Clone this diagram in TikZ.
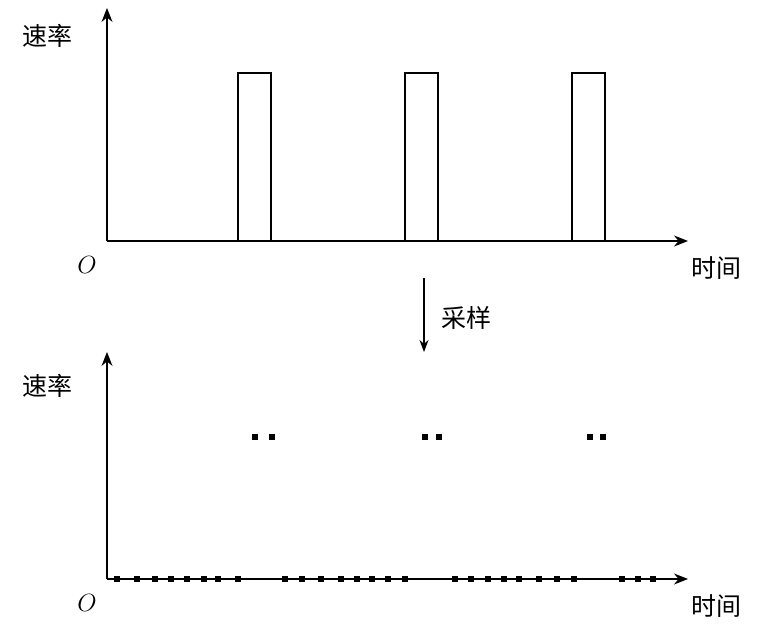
\documentclass[tikz,border=0pt]{standalone}
\usepackage{fontspec}
\setmainfont{Liberation Serif}
\newfontfamily\cjk{Noto Sans CJK SC}
\usetikzlibrary{arrows.meta}
\begin{document}
\begin{tikzpicture}[x=1pt,y=-1pt,
  ax/.style={line width=1.2pt,-{Stealth[length=14pt,width=11pt]}},
  lbl/.style={font=\cjk\fontsize{25}{25}\selectfont},
  orig/.style={font=\itshape\fontsize{28}{28}\selectfont},
  pulse/.style={draw,line width=1.1pt},
  dot/.style={fill=black,minimum size=6pt,inner sep=0pt}]
\useasboundingbox (0,0) rectangle (774,639);
% top
\coordinate (o1) at (107,241);
\coordinate (y1) at (107,8);
\coordinate (x1) at (688,241);
\draw[ax] (o1) -- (y1);
\draw[ax] (o1) -- (x1);
\node[lbl] (r1) at (48,36) {速率};
\node[orig] (O1) at (87,265) {$O$};
\node[lbl] (t1) at (716,268) {时间};
\foreach \a in {238,405,572}{
  \draw[pulse] (\a,241) -- (\a,73) -- (\a+33,73) -- (\a+33,241);
}
% sampling arrow
\coordinate (sa) at (424,278);
\coordinate (sb) at (424,352);
\draw[line width=1.2pt,-{Stealth[length=12pt,width=9pt]}] (sa) -- (sb);
\node[lbl] (s) at (466,318) {采样};
% bottom
\coordinate (o2) at (107,579);
\coordinate (y2) at (107,352);
\coordinate (x2) at (688,579);
\draw[ax] (o2) -- (y2);
\draw[ax] (o2) -- (x2);
\node[lbl] (r2) at (48,386) {速率};
\node[orig] (O2) at (87,603) {$O$};
\node[lbl] (t2) at (716,606) {时间};
\foreach \x in {255,272,425,439,590,603}{\node[dot] at (\x,437) {};}
\foreach \x in {117,137,155,171,187,204,218,238,285,302,321,341,357,372,388,405,455,471,488,504,519,539,557,574,622,638,653}{\node[dot] at (\x,579) {};}
\end{tikzpicture}
\end{document}
